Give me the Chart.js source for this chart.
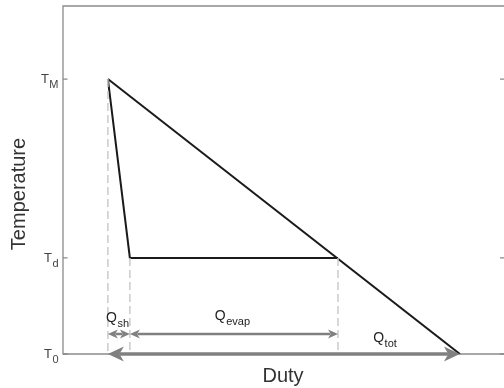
<!DOCTYPE html>
<html>
<head>
<meta charset="utf-8">
<script src="https://cdn.jsdelivr.net/npm/chart.js@4.4.0/dist/chart.umd.min.js"></script>
<style>
  html, body { margin: 0; background: #fff; }
  #wrap { width: 504px; height: 388px; }
</style>
</head>
<body>
<div id="wrap"><canvas id="chart" width="504" height="388"></canvas></div>
<script>
// hot stream: straight line from T_M down to T_0 at total duty
const hotDuty = [10.2, 90.2];
const hotTemp = [7.9, 0];
// cold side: superheat then flat evaporation at T_d
const coldDuty = [10.2, 15.2, 62.5];
const coldTemp = [7.9, 2.76, 2.76];
// dashed guide lines dropped to the axis
const guideDuty = [10.2, 15.2, 62.5];
const guideTop = [7.9, 2.76, 2.76];
// y ticks
const tickValues = [0, 2.76, 7.9];
const tickSubs = ['0', 'd', 'M'];
// duty arrows
const arrowNames = ['sh', 'evap', 'tot'];
const arrowFrom = [10.2, 15.2, 10.2];
const arrowTo = [15.2, 62.5, 90.2];
const arrowLevel = [0.575, 0.575, 0];
const labelDuty = [9.8, 34.5, 70.5];
const labelLevel = [0.92, 0.98, 0.345];

const FONT = '"Liberation Sans", Arial, Helvetica, sans-serif';

function toPoints(xs, ys) {
    return xs.map((x, i) => ({ x, y: ys[i] }));
}

const datasets = [];
guideDuty.forEach((x, i) => {
    datasets.push({
        data: toPoints([x, x], [guideTop[i], 0]),
        borderColor: '#cbcbcb',
        borderWidth: 1.5,
        borderDash: [8, 4]
    });
});
datasets.push({ data: toPoints(hotDuty, hotTemp), borderColor: '#1a1a1a', borderWidth: 2 });
datasets.push({ data: toPoints(coldDuty, coldTemp), borderColor: '#1a1a1a', borderWidth: 2 });

function arrowHead(ctx, x, y, dir, len, half) {
    ctx.beginPath();
    ctx.moveTo(x, y);
    ctx.lineTo(x - dir * len, y - half);
    ctx.lineTo(x - dir * len * 0.72, y);
    ctx.lineTo(x - dir * len, y + half);
    ctx.closePath();
    ctx.fill();
}

function subText(ctx, main, sub, x, y, mainSize, subSize, subDrop, align) {
    ctx.font = mainSize + 'px ' + FONT;
    const w1 = ctx.measureText(main).width;
    ctx.font = subSize + 'px ' + FONT;
    const w2 = ctx.measureText(sub).width;
    let left = x;
    if (align === 'right') left = x - w1 - w2;
    ctx.textAlign = 'left';
    ctx.textBaseline = 'alphabetic';
    ctx.font = mainSize + 'px ' + FONT;
    ctx.fillText(main, left, y);
    ctx.font = subSize + 'px ' + FONT;
    ctx.fillText(sub, left + w1 + 0.5, y + subDrop);
}

const framePlugin = {
    id: 'frame',
    beforeDatasetsDraw(chart) {
        const { ctx, chartArea: a, scales, width } = chart;
        ctx.save();
        ctx.strokeStyle = '#8a8a8a';
        ctx.lineWidth = 1.3;
        ctx.beginPath();
        ctx.moveTo(width, a.top);
        ctx.lineTo(a.left, a.top);
        ctx.lineTo(a.left, a.bottom);
        ctx.lineTo(width, a.bottom);
        ctx.stroke();
        tickValues.forEach(v => {
            const y = scales.y.getPixelForValue(v);
            ctx.beginPath();
            ctx.moveTo(a.left, y);
            ctx.lineTo(a.left + 4.5, y);
            ctx.moveTo(width, y);
            ctx.lineTo(width - 4, y);
            ctx.stroke();
        });
        ctx.restore();
    },
    afterDatasetsDraw(chart) {
        const { ctx, chartArea: a, scales } = chart;
        ctx.save();
        // arrows
        ctx.fillStyle = '#808080';
        ctx.strokeStyle = '#808080';
        arrowNames.forEach((name, i) => {
            const big = name === 'tot';
            const len = big ? 16 : 10;
            const half = big ? 7.5 : 4.5;
            const x1 = scales.x.getPixelForValue(arrowFrom[i]);
            const x2 = scales.x.getPixelForValue(arrowTo[i]);
            const y = scales.y.getPixelForValue(arrowLevel[i]);
            ctx.lineWidth = big ? 3.5 : 2.5;
            ctx.beginPath();
            ctx.moveTo(x1 + len * 0.75, y);
            ctx.lineTo(x2 - len * 0.75, y);
            ctx.stroke();
            arrowHead(ctx, x1, y, -1, len, half);
            arrowHead(ctx, x2, y, 1, len, half);
        });
        // arrow labels
        ctx.fillStyle = '#222';
        arrowNames.forEach((name, i) => {
            const x = scales.x.getPixelForValue(labelDuty[i]);
            const y = scales.y.getPixelForValue(labelLevel[i]);
            subText(ctx, 'Q', name, x, y, 14, 11, 5, 'left');
        });
        // y tick labels
        ctx.fillStyle = '#444';
        tickValues.forEach((v, i) => {
            const y = scales.y.getPixelForValue(v);
            subText(ctx, 'T', tickSubs[i], a.left - 5, y + 4, 13, 11, 5, 'right');
        });
        // axis titles
        ctx.fillStyle = '#333';
        ctx.font = '20px ' + FONT;
        ctx.textAlign = 'center';
        ctx.textBaseline = 'alphabetic';
        ctx.fillText('Duty', (a.left + a.right) / 2, 382);
        ctx.translate(25, 194);
        ctx.rotate(-Math.PI / 2);
        ctx.fillText('Temperature', 0, 0);
        ctx.restore();
    }
};

new Chart(document.getElementById('chart'), {
    type: 'line',
    data: { datasets },
    options: {
        responsive: false,
        animation: false,
        devicePixelRatio: 1,
        layout: { padding: { left: 63, top: 6, right: 1, bottom: 34 } },
        elements: { point: { radius: 0 }, line: { tension: 0 } },
        scales: {
            x: { type: 'linear', min: 0, max: 100, display: false },
            y: { type: 'linear', min: 0, max: 10, display: false }
        },
        plugins: { legend: { display: false }, tooltip: { enabled: false } }
    },
    plugins: [framePlugin]
});
</script>
</body>
</html>
